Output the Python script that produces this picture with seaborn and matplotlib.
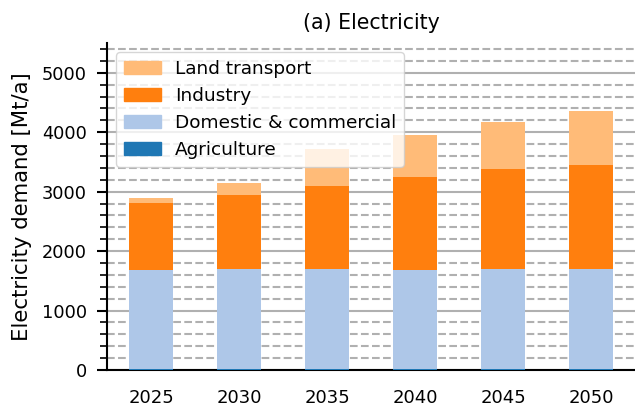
import numpy as np
import pandas as pd
import matplotlib
matplotlib.use("Agg")
import matplotlib.pyplot as plt
import seaborn as sns
from matplotlib.patches import Patch
from matplotlib.ticker import MultipleLocator

years = ["2025", "2030", "2035", "2040", "2045", "2050"]
agriculture = [15, 15, 15, 15, 15, 15]
domestic = [1662, 1678, 1678, 1662, 1678, 1678]
industry = [1127, 1251, 1403, 1571, 1685, 1753]
land_transport = [85, 198, 620, 705, 794, 917]

series = ["Agriculture", "Domestic & commercial", "Industry", "Land transport"]
colors = ["#1f77b4", "#aec7e8", "#ff7f0e", "#ffbb78"]

sns.set_style("white")
plt.rcParams['font.family'] = ['DejaVu Sans']
plt.rcParams.update({"text.color": "black", "axes.labelcolor": "black",
                     "xtick.color": "black", "ytick.color": "black"})

fig = plt.figure(figsize=(6.35, 4.12), dpi=100)
ax = fig.add_axes([107/635, 42/412, 1 - 107/635, 327/412])

vals = [agriculture, domestic, industry, land_transport]
cum = np.cumsum(np.array(vals), axis=0)
# draw tallest cumulative first so shorter stacks overlay
for i in range(len(series) - 1, -1, -1):
    d = pd.DataFrame({"year": years, "value": cum[i]})
    sns.barplot(data=d, x="year", y="value", color=colors[i], width=0.5,
                saturation=1, ax=ax, order=years, errorbar=None, zorder=3,
                linewidth=0, edgecolor="none")

ax.set_xlim(-0.5, 5.5)
ax.set_ylim(0, 5500)
ax.yaxis.set_major_locator(MultipleLocator(1000))
ax.yaxis.set_minor_locator(MultipleLocator(200))
ax.grid(axis="y", which="major", color="#b0b0b0", linestyle="-", linewidth=1.5, zorder=0)
ax.grid(axis="y", which="minor", color="#b0b0b0", linestyle="--", linewidth=1.5, zorder=0)
ax.set_axisbelow(True)

for s in ["top", "right"]:
    ax.spines[s].set_visible(False)
ax.spines["left"].set_linewidth(1.5)
ax.spines["bottom"].set_linewidth(1.5)
ax.spines["left"].set_color("black")
ax.spines["bottom"].set_color("black")

ax.tick_params(axis="y", which="major", left=True, length=7, width=1.5, labelsize=12.8,
               direction="out", pad=7.5, colors="black")
ax.tick_params(axis="y", which="minor", left=True, length=5, width=1.2, direction="out",
               colors="black")
ax.tick_params(axis="x", bottom=False, length=0, labelsize=13, pad=14, colors="black")

ax.set_xlabel("")
ax.set_ylabel("Electricity demand [Mt/a]", fontsize=15.3, labelpad=7, color="black")
ax.set_title("(a) Electricity", fontsize=14.8, pad=10, color="black")

handles = [Patch(color=colors[i], label=series[i]) for i in range(len(series) - 1, -1, -1)]
leg = ax.legend(handles=handles, loc="upper left", fontsize=13.3, framealpha=0.8,
                handlelength=2.0)
for t in leg.get_texts():
    t.set_color("black")

fig.savefig("out.png", dpi=100)
